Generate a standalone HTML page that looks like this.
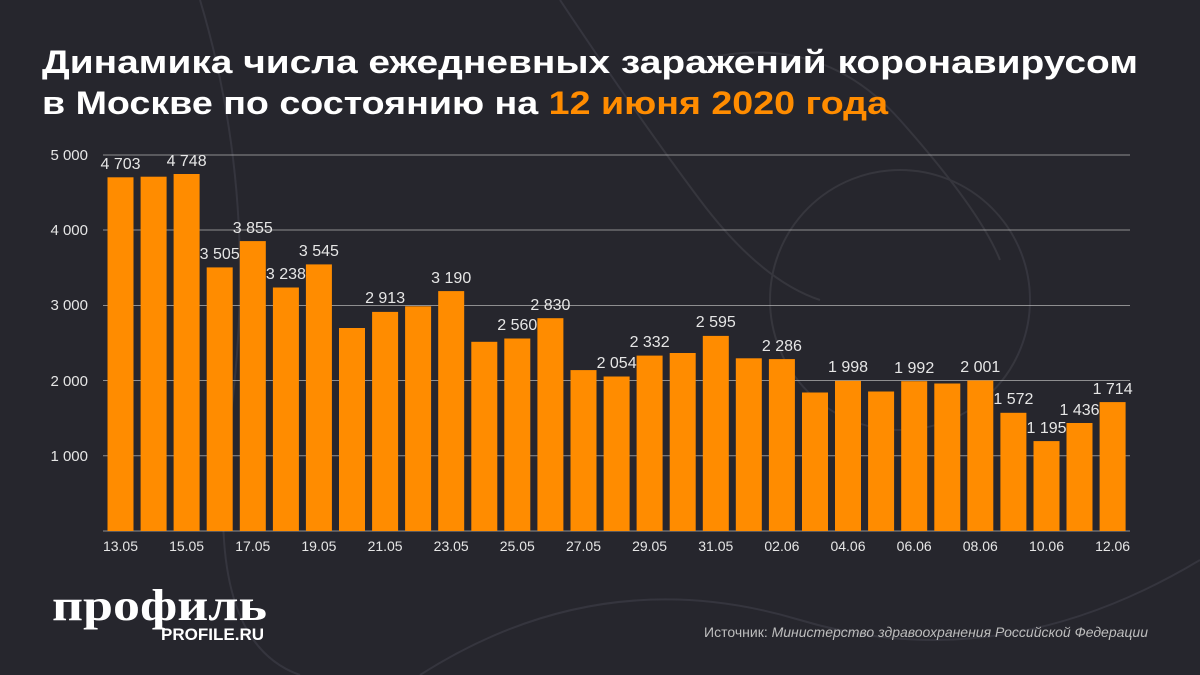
<!DOCTYPE html><html><head><meta charset="utf-8"><style>body{margin:0;background:#26262d}svg{display:block}</style></head><body>
<svg width="1200" height="675" xmlns="http://www.w3.org/2000/svg" font-family="Liberation Sans, sans-serif">
<rect width="1200" height="675" fill="#26262d"/>
<g stroke="#3a3a42" stroke-width="2" fill="none" opacity="0.8">
<path d="M560 0 Q640 120 700 200 T820 300"/><path d="M700 60 Q820 30 900 120 T1000 260"/><circle cx="900" cy="300" r="130"/><path d="M200 0 Q260 200 230 420 T300 675"/><path d="M420 675 Q600 560 800 620 T1200 560"/>
</g>
<text x="42" y="73" font-size="32" font-weight="bold" fill="#fff" textLength="1096" lengthAdjust="spacingAndGlyphs">Динамика числа ежедневных заражений коронавирусом</text>
<text x="42" y="114" font-size="32" font-weight="bold" fill="#fff" textLength="846" lengthAdjust="spacingAndGlyphs">в Москве по состоянию на <tspan fill="#ff8c00">12 июня 2020 года</tspan></text>
<g stroke="#bbb" stroke-width="1" opacity="0.7">
<line x1="103" x2="1130" y1="155" y2="155"/><line x1="103" x2="1130" y1="230" y2="230"/><line x1="103" x2="1130" y1="305.5" y2="305.5"/><line x1="103" x2="1130" y1="380.5" y2="380.5"/><line x1="103" x2="1130" y1="455.8" y2="455.8"/><line x1="103" x2="1130" y1="531" y2="531"/>
</g>
<g font-size="15" fill="#e6e6e6" text-anchor="end">
<text x="88" y="160">5 000</text><text x="88" y="235">4 000</text><text x="88" y="310">3 000</text><text x="88" y="386">2 000</text><text x="88" y="461">1 000</text>
</g>
<g fill="#ff8c00">
<rect x="107.5" y="177.3" width="26" height="353.7"/><rect x="140.6" y="176.7" width="26" height="354.3"/><rect x="173.6" y="174" width="26" height="357"/><rect x="206.7" y="267.4" width="26" height="263.6"/><rect x="239.8" y="241.1" width="26" height="289.9"/><rect x="272.9" y="287.5" width="26" height="243.5"/><rect x="305.9" y="264.4" width="26" height="266.6"/><rect x="339" y="328" width="26" height="203"/><rect x="372.1" y="311.9" width="26" height="219.1"/><rect x="405.1" y="306.3" width="26" height="224.7"/><rect x="438.2" y="291.1" width="26" height="239.9"/><rect x="471.3" y="341.8" width="26" height="189.2"/><rect x="504.3" y="338.5" width="26" height="192.5"/><rect x="537.4" y="318.2" width="26" height="212.8"/><rect x="570.5" y="370.1" width="26" height="160.9"/><rect x="603.6" y="376.5" width="26" height="154.5"/><rect x="636.6" y="355.6" width="26" height="175.4"/><rect x="669.7" y="353" width="26" height="178"/><rect x="702.8" y="335.9" width="26" height="195.1"/><rect x="735.8" y="358.3" width="26" height="172.7"/><rect x="768.9" y="359.1" width="26" height="171.9"/><rect x="802" y="392.5" width="26" height="138.5"/><rect x="835" y="380.8" width="26" height="150.2"/><rect x="868.1" y="391.5" width="26" height="139.5"/><rect x="901.2" y="381.2" width="26" height="149.8"/><rect x="934.3" y="383.5" width="26" height="147.5"/><rect x="967.3" y="380.5" width="26" height="150.5"/><rect x="1000.4" y="412.8" width="26" height="118.2"/><rect x="1033.5" y="441.1" width="26" height="89.9"/><rect x="1066.5" y="423" width="26" height="108"/><rect x="1099.6" y="402.1" width="26" height="128.9"/>
</g>
<g font-size="16" fill="#e6e6e6" text-anchor="middle">
<text x="120.5" y="169">4 703</text><text x="186.6" y="166">4 748</text><text x="219.7" y="259">3 505</text><text x="252.8" y="233">3 855</text><text x="285.9" y="279">3 238</text><text x="318.9" y="256">3 545</text><text x="385.1" y="303">2 913</text><text x="451.2" y="283">3 190</text><text x="517.3" y="330">2 560</text><text x="550.4" y="310">2 830</text><text x="616.6" y="368">2 054</text><text x="649.6" y="347">2 332</text><text x="715.8" y="327">2 595</text><text x="781.9" y="351">2 286</text><text x="848" y="372">1 998</text><text x="914.2" y="373">1 992</text><text x="980.3" y="372">2 001</text><text x="1013.4" y="404">1 572</text><text x="1046.5" y="433">1 195</text><text x="1079.5" y="415">1 436</text><text x="1112.6" y="394">1 714</text>
</g>
<g font-size="14" fill="#e6e6e6" text-anchor="middle">
<text x="120.5" y="551">13.05</text><text x="186.6" y="551">15.05</text><text x="252.8" y="551">17.05</text><text x="318.9" y="551">19.05</text><text x="385.1" y="551">21.05</text><text x="451.2" y="551">23.05</text><text x="517.3" y="551">25.05</text><text x="583.5" y="551">27.05</text><text x="649.6" y="551">29.05</text><text x="715.8" y="551">31.05</text><text x="781.9" y="551">02.06</text><text x="848" y="551">04.06</text><text x="914.2" y="551">06.06</text><text x="980.3" y="551">08.06</text><text x="1046.5" y="551">10.06</text><text x="1112.6" y="551">12.06</text>
</g>
<text x="52" y="620" font-family="Liberation Serif, serif" font-size="44" font-weight="bold" fill="#fff" textLength="215" lengthAdjust="spacingAndGlyphs">профиль</text>
<text x="264" y="640" text-anchor="end" font-size="17" font-weight="bold" fill="#fff">PROFILE.RU</text>
<text x="1148" y="637" text-anchor="end" font-size="14" fill="#bdbdbd">Источник: <tspan font-style="italic">Министерство здравоохранения Российской Федерации</tspan></text>
</svg></body></html>
